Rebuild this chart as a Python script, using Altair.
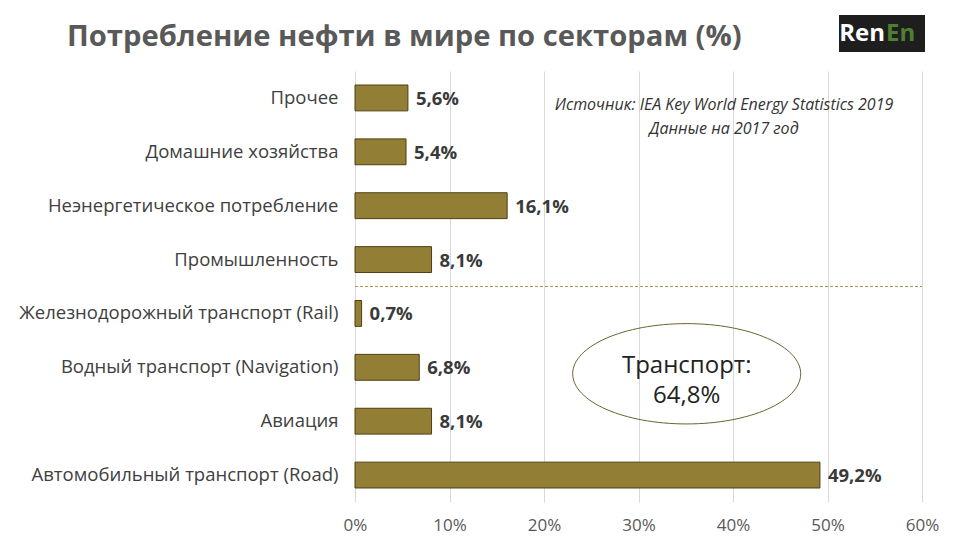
import altair as alt
import pandas as pd

categories = [
    "Прочее",
    "Домашние хозяйства",
    "Неэнергетическое потребление",
    "Промышленность",
    "Железнодорожный транспорт (Rail)",
    "Водный транспорт (Navigation)",
    "Авиация",
    "Автомобильный транспорт (Road)",
]
values = [5.6, 5.4, 16.1, 8.1, 0.7, 6.8, 8.1, 49.2]
x_ticks = [0, 10, 20, 30, 40, 50, 60]

df = pd.DataFrame({
    "cat": categories,
    "val": values,
    "lbl": [f"{v:.1f}".replace(".", ",") + "%" for v in values],
})

FONT = "Open Sans"
W, H = 567, 431

xs = alt.Scale(domain=[0, 60], nice=False)
ys = alt.Scale(domain=categories, paddingInner=0.52, paddingOuter=0.26)

base = alt.Chart(df)

bars = base.mark_bar(color="#927f35", stroke="#4e3f12", strokeWidth=1).encode(
    x=alt.X("val:Q", scale=xs,
            axis=alt.Axis(values=x_ticks, labelExpr="datum.value + '%'", title=None,
                          grid=True, gridColor="#d9d9d9", domain=False, ticks=False,
                          labelFont=FONT, labelFontSize=17, labelColor="#595959",
                          labelPadding=15, labelFlush=False)),
    y=alt.Y("cat:N", scale=ys, sort=categories,
            axis=alt.Axis(title=None, domain=False, ticks=False, grid=False,
                          labelFont=FONT, labelFontSize=18.5, labelColor="#404040",
                          labelPadding=17, labelLimit=400)),
)

labels = base.mark_text(align="left", baseline="middle", dx=8, dy=1, font=FONT,
                        fontSize=18.5, fontWeight="bold", color="#3a3a3a").encode(
    x=alt.X("val:Q", scale=xs), y=alt.Y("cat:N", scale=ys, sort=categories), text="lbl:N"
)

sep = alt.Chart(pd.DataFrame({"cat": ["Промышленность"]})).mark_rule(
    color="#a8984a", strokeDash=[3, 2], strokeWidth=1, yOffset=14
).encode(
    y=alt.Y("cat:N", scale=ys, sort=categories, bandPosition=1),
    x=alt.value(0), x2=alt.value(W),
)

ell_df = pd.DataFrame({"x": [35.1], "cat": ["Водный транспорт (Navigation)"], "t": ["Транспорт:\n64,8%"]})
ellipse = alt.Chart(ell_df).mark_point(
    shape="M -1 0 A 1 0.44 0 1 0 1 0 A 1 0.44 0 1 0 -1 0",
    size=228 * 228, filled=False, stroke="#6b6230", strokeWidth=1, opacity=1,
).encode(
    x=alt.X("x:Q", scale=xs),
    y=alt.Y("cat:N", scale=ys, sort=categories, bandPosition=0.75),
)
ell_text = alt.Chart(ell_df).mark_text(
    font=FONT, fontSize=24, color="#222222", lineBreak="\n", lineHeight=30, baseline="middle", dy=-8
).encode(
    x=alt.X("x:Q", scale=xs),
    y=alt.Y("cat:N", scale=ys, sort=categories, bandPosition=0.75),
    text="t:N",
)

src = alt.Chart(pd.DataFrame({"t": ["Источник: IEA Key World Energy Statistics 2019\nДанные на 2017 год"]})).mark_text(
    font=FONT, fontSize=16, fontStyle="italic", color="#333333", lineBreak="\n", lineHeight=24,
    align="center", baseline="middle"
).encode(x=alt.value(369), y=alt.value(34), text="t:N")

title = alt.Chart(pd.DataFrame({"t": ["Потребление нефти в мире по секторам (%)"]})).mark_text(
    font=FONT, fontSize=29.2, fontWeight="bold", color="#595959", align="left", baseline="middle"
).encode(x=alt.value(-288), y=alt.value(-34), text="t:N")

logo_bg = alt.Chart(pd.DataFrame({"a": [1]})).mark_rect(color="#1e1e1e").encode(
    x=alt.value(484), x2=alt.value(570), y=alt.value(-56), y2=alt.value(-19)
)
logo_ren = alt.Chart(pd.DataFrame({"t": ["Ren"]})).mark_text(
    font=FONT, fontSize=24, fontWeight="bold", color="#ffffff", align="right", baseline="middle"
).encode(x=alt.value(530), y=alt.value(-37), text="t:N")
logo_en = alt.Chart(pd.DataFrame({"t": ["En"]})).mark_text(
    font=FONT, fontSize=24, fontWeight="bold", color="#4f7d32", align="left", baseline="middle"
).encode(x=alt.value(531), y=alt.value(-37), text="t:N")

chart = alt.layer(bars, labels, sep, ellipse, ell_text, src, title, logo_bg, logo_ren, logo_en).properties(
    width=W, height=H,
    autosize=alt.AutoSizeParams(type="none"),
    padding={"left": 347, "top": 63, "right": 30, "bottom": 43},
    background="white",
).configure_view(stroke=None)

chart.save("out.html", embed_options={"renderer": "svg", "actions": False})
